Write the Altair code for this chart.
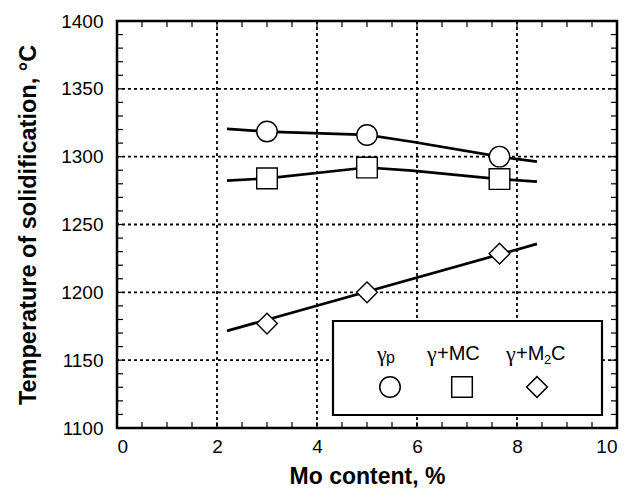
import altair as alt
import pandas as pd

# ---- data ----
mo_points = [3.0, 5.0, 7.65]
gamma_p = [1318.5, 1316, 1300]
gamma_mc = [1284, 1292, 1283.5]
gamma_m2c = [1177, 1200, 1228.5]

fit_x_p = [2.2, 3.0, 5.0, 5.9, 7.65, 8.4]
fit_y_p = [1320.5, 1318.5, 1316, 1311, 1300, 1296.3]
fit_x_mc = [2.2, 3.0, 5.0, 5.9, 7.65, 8.4]
fit_y_mc = [1282.3, 1284, 1292, 1289.7, 1283.5, 1281.6]
fit_x_m2c = [2.2, 8.4]
fit_y_m2c = [1171.6, 1235.7]

x_grid = [2, 4, 6, 8]
y_grid = [1150, 1200, 1250, 1300, 1350]
x_minor = [v / 2 for v in range(1, 20)]
y_minor = list(range(1110, 1400, 10))
x_ticks = [0, 2, 4, 6, 8, 10]
y_ticks = [1100, 1150, 1200, 1250, 1300, 1350, 1400]

W, H = 500, 407
FONT = "Liberation Sans"
SERIF = "Liberation Serif"

xs = alt.Scale(domain=[0, 10], nice=False)
ys = alt.Scale(domain=[1100, 1400], nice=False)

pts = pd.DataFrame({
    "x": mo_points * 3,
    "y": gamma_p + gamma_mc + gamma_m2c,
    "s": ["p"] * 3 + ["mc"] * 3 + ["m2c"] * 3,
})
fits = pd.DataFrame({
    "x": fit_x_p + fit_x_mc + fit_x_m2c,
    "y": fit_y_p + fit_y_mc + fit_y_m2c,
    "s": ["p"] * len(fit_x_p) + ["mc"] * len(fit_x_mc) + ["m2c"] * len(fit_x_m2c),
})

xaxis = alt.Axis(values=x_ticks, grid=False, ticks=False, domain=False, format="d",
                 labelFontSize=19, labelFont=FONT, labelColor="black", labelPadding=9,
                 title="Mo content, %", titleFontSize=23, titleFont=FONT,
                 titleFontWeight="bold", titleColor="black", titlePadding=9)
yaxis = alt.Axis(values=y_ticks, grid=False, ticks=False, format="d",
                 domain=False, labelFontSize=19, labelFont=FONT, labelColor="black",
                 labelPadding=14, title="Temperature of solidification, °C",
                 titleFontSize=23.5, titleFont=FONT, titleFontWeight="bold",
                 titleColor="black", titlePadding=20)

base_axes = alt.Chart(pd.DataFrame({"x": [0], "y": [1100]})).mark_point(opacity=0).encode(
    x=alt.X("x:Q", scale=xs, axis=xaxis),
    y=alt.Y("y:Q", scale=ys, axis=yaxis),
)

dash = [3, 3]
vgrid = alt.Chart(pd.DataFrame({"x": x_grid})).mark_rule(
    color="black", strokeWidth=1.8, strokeDash=dash).encode(x=alt.X("x:Q", scale=xs))
hgrid = alt.Chart(pd.DataFrame({"y": y_grid})).mark_rule(
    color="black", strokeWidth=1.8, strokeDash=dash).encode(y=alt.Y("y:Q", scale=ys))

tl = 6
xdf = pd.DataFrame({"x": x_minor})
ydf = pd.DataFrame({"y": y_minor})
tick_b = alt.Chart(xdf).mark_rule(color="black", strokeWidth=1.2).encode(
    x=alt.X("x:Q", scale=xs), y=alt.value(H), y2=alt.value(H - tl))
tick_t = alt.Chart(xdf).mark_rule(color="black", strokeWidth=1.2).encode(
    x=alt.X("x:Q", scale=xs), y=alt.value(0), y2=alt.value(tl))
tick_l = alt.Chart(ydf).mark_rule(color="black", strokeWidth=1.2).encode(
    y=alt.Y("y:Q", scale=ys), x=alt.value(0), x2=alt.value(tl))
tick_r = alt.Chart(ydf).mark_rule(color="black", strokeWidth=1.2).encode(
    y=alt.Y("y:Q", scale=ys), x=alt.value(W), x2=alt.value(W - tl))

lines = alt.Chart(fits).mark_line(color="black", strokeWidth=2.7).encode(
    x=alt.X("x:Q", scale=xs), y=alt.Y("y:Q", scale=ys), detail="s:N")

shape_scale = alt.Scale(domain=["p", "mc", "m2c"], range=["circle", "square", "diamond"])
size_scale = alt.Scale(domain=["p", "mc", "m2c"], range=[420, 430, 430])
markers = alt.Chart(pts).mark_point(filled=True, fill="white", stroke="black",
                                    strokeWidth=1.4, opacity=1).encode(
    x=alt.X("x:Q", scale=xs), y=alt.Y("y:Q", scale=ys),
    shape=alt.Shape("s:N", scale=shape_scale, legend=None),
    size=alt.Size("s:N", scale=size_scale, legend=None),
)

# legend box (pixel positions inside the plot area)
leg_box = alt.Chart(pd.DataFrame({"a": [0]})).mark_rect(
    fill="white", stroke="black", strokeWidth=2.2).encode(
    x=alt.value(216), x2=alt.value(485), y=alt.value(300), y2=alt.value(394))


def txt(t, px, py, size=20, font=FONT):
    return alt.Chart(pd.DataFrame({"t": [t]})).mark_text(
        font=font, fontSize=size, align="left", baseline="alphabetic", color="black"
    ).encode(text="t:N", x=alt.value(px), y=alt.value(py))


LB = 339
leg_texts = [
    txt("γ", 260, LB + 1, 22, SERIF), txt("p", 269, LB + 3, 16),
    txt("γ", 310, LB + 1, 22, SERIF), txt("+MC", 320, LB),
    txt("γ", 389, LB + 1, 22, SERIF), txt("+M", 399, LB), txt("2", 427, LB + 4, 13),
    txt("C", 434, LB),
]

leg_sym = pd.DataFrame({"s": ["p", "mc", "m2c"], "px": [273, 345, 420]})
leg_size = alt.Scale(domain=["p", "mc", "m2c"], range=[400, 470, 560])
leg_syms = alt.Chart(leg_sym).mark_point(filled=True, fill="white", stroke="black",
                                         strokeWidth=1.5, opacity=1).encode(
    x=alt.X("px:Q", scale=None), y=alt.value(366),
    shape=alt.Shape("s:N", scale=shape_scale, legend=None),
    size=alt.Size("s:N", scale=leg_size, legend=None),
)

chart = alt.layer(
    base_axes, vgrid, hgrid, tick_b, tick_t, tick_l, tick_r, lines, markers,
    leg_box, *leg_texts, leg_syms,
).properties(
    width=W, height=H,
    autosize=alt.AutoSizeParams(type="none"),
    padding={"left": 109, "top": 13, "right": 10, "bottom": 60},
    background="white",
).configure_view(stroke="black", strokeWidth=2.5)

chart.save("out.html", embed_options={"renderer": "svg", "actions": False})
